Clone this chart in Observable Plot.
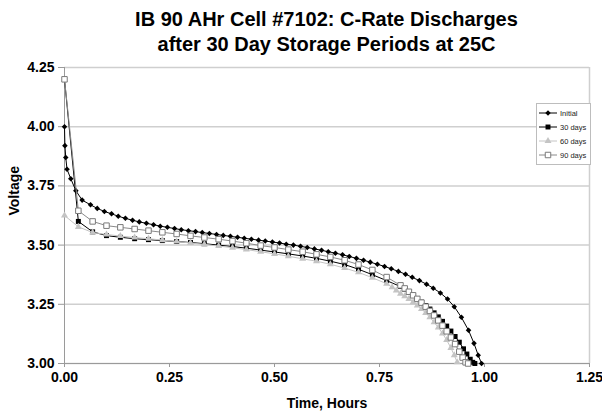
<!DOCTYPE html>
<html>
<head>
<meta charset="utf-8">
<script src="https://cdn.jsdelivr.net/npm/d3@7"></script>
<script src="https://cdn.jsdelivr.net/npm/@observablehq/plot@0.6"></script>
<style>
  html, body { margin: 0; padding: 0; background: #fff; }
  #wrap { position: relative; width: 602px; height: 419px; font-family: "Liberation Sans", Arial, sans-serif; }
  #title { box-sizing: border-box; height: 57px; padding: 7px 13px 0 64px; text-align: center; font-weight: bold; font-size: 20px; line-height: 25px; color: #000; }
  #legend { position: absolute; left: 536px; top: 103px; width: 55px; height: 62px; box-sizing: border-box; border: 1px solid #bdbdbd; background: #fff; }
  .lrow { position: absolute; left: 1px; height: 10px; display: flex; align-items: center; font-size: 7.5px; color: #222; white-space: nowrap; }
  .lrow svg { margin-right: 2px; }
</style>
</head>
<body>
<div id="wrap">
  <div id="title">IB 90 AHr Cell #7102: C-Rate Discharges<br>after 30 Day Storage Periods at 25C</div>
  <div id="chart"></div>
  <div id="legend"></div>
</div>
<script>
// ---- data (time in hours, voltage in volts) ----
const seriesNames = ["Initial", "30 days", "60 days", "90 days"];
const xTicks = [0, 0.25, 0.5, 0.75, 1.0, 1.25];
const yTicks = [3.0, 3.25, 3.5, 3.75, 4.0, 4.25];

const initialT = [0, 0.001, 0.003, 0.006, 0.015, 0.027, 0.042, 0.062, 0.078, 0.095, 0.112, 0.128, 0.145, 0.162, 0.178, 0.195, 0.212, 0.228, 0.245, 0.262, 0.278, 0.295, 0.312, 0.328, 0.345, 0.362, 0.378, 0.395, 0.412, 0.428, 0.445, 0.462, 0.478, 0.495, 0.512, 0.528, 0.545, 0.562, 0.578, 0.595, 0.612, 0.628, 0.645, 0.662, 0.678, 0.695, 0.712, 0.728, 0.745, 0.762, 0.778, 0.795, 0.812, 0.828, 0.845, 0.862, 0.878, 0.895, 0.912, 0.928, 0.945, 0.962, 0.975, 0.985, 0.993];
const initialV = [4.00, 3.92, 3.87, 3.82, 3.78, 3.73, 3.69, 3.67, 3.655, 3.642, 3.632, 3.622, 3.613, 3.605, 3.598, 3.592, 3.586, 3.580, 3.575, 3.570, 3.565, 3.561, 3.557, 3.553, 3.549, 3.545, 3.541, 3.537, 3.533, 3.529, 3.525, 3.521, 3.517, 3.513, 3.509, 3.504, 3.500, 3.495, 3.490, 3.484, 3.478, 3.472, 3.466, 3.459, 3.452, 3.444, 3.436, 3.428, 3.419, 3.410, 3.400, 3.389, 3.377, 3.364, 3.350, 3.335, 3.318, 3.298, 3.272, 3.240, 3.195, 3.140, 3.085, 3.035, 3.000];

const d30T = [0, 0.033, 0.067, 0.1, 0.133, 0.167, 0.2, 0.233, 0.267, 0.3, 0.333, 0.367, 0.4, 0.433, 0.467, 0.5, 0.533, 0.567, 0.6, 0.633, 0.667, 0.7, 0.733, 0.767, 0.8, 0.81, 0.82, 0.83, 0.84, 0.85, 0.86, 0.87, 0.88, 0.89, 0.9, 0.91, 0.92, 0.93, 0.94, 0.95, 0.958, 0.966, 0.972, 0.977];
const d30V = [4.20, 3.600, 3.556, 3.540, 3.533, 3.527, 3.523, 3.519, 3.515, 3.511, 3.506, 3.500, 3.494, 3.487, 3.479, 3.471, 3.463, 3.454, 3.444, 3.432, 3.418, 3.398, 3.375, 3.350, 3.325, 3.314, 3.300, 3.287, 3.273, 3.259, 3.245, 3.230, 3.214, 3.197, 3.178, 3.158, 3.137, 3.114, 3.090, 3.062, 3.040, 3.018, 3.005, 3.000];

const d60T = [0, 0.033, 0.067, 0.1, 0.133, 0.167, 0.2, 0.233, 0.267, 0.3, 0.333, 0.367, 0.4, 0.433, 0.467, 0.5, 0.533, 0.567, 0.6, 0.633, 0.667, 0.7, 0.733, 0.767, 0.78, 0.79, 0.8, 0.81, 0.82, 0.83, 0.84, 0.85, 0.86, 0.87, 0.88, 0.89, 0.9, 0.91, 0.92, 0.928, 0.935];
const d60V = [3.625, 3.577, 3.553, 3.545, 3.538, 3.532, 3.527, 3.521, 3.515, 3.509, 3.503, 3.496, 3.489, 3.481, 3.472, 3.463, 3.453, 3.442, 3.432, 3.419, 3.403, 3.385, 3.362, 3.337, 3.322, 3.308, 3.295, 3.284, 3.272, 3.259, 3.245, 3.230, 3.213, 3.195, 3.174, 3.152, 3.127, 3.099, 3.066, 3.035, 3.005];

const d90T = [0, 0.033, 0.067, 0.1, 0.133, 0.167, 0.2, 0.233, 0.267, 0.3, 0.333, 0.367, 0.4, 0.433, 0.467, 0.5, 0.533, 0.567, 0.6, 0.633, 0.667, 0.7, 0.733, 0.767, 0.8, 0.81, 0.82, 0.83, 0.84, 0.85, 0.86, 0.87, 0.88, 0.89, 0.9, 0.91, 0.92, 0.93, 0.94, 0.948, 0.955, 0.961];
const d90V = [4.20, 3.645, 3.600, 3.582, 3.575, 3.568, 3.561, 3.554, 3.547, 3.539, 3.532, 3.525, 3.517, 3.508, 3.498, 3.490, 3.481, 3.472, 3.461, 3.450, 3.436, 3.418, 3.395, 3.365, 3.330, 3.317, 3.303, 3.288, 3.273, 3.257, 3.240, 3.222, 3.203, 3.182, 3.160, 3.136, 3.110, 3.082, 3.050, 3.025, 3.005, 3.000];

// ---- build tables ----
const toRows = (ts, vs, s) => ts.map((t, i) => ({ t, v: vs[i], s }));
const rowsInit = toRows(initialT, initialV, seriesNames[0]);
const rows30 = toRows(d30T, d30V, seriesNames[1]);
const rows60 = toRows(d60T, d60V, seriesNames[2]);
const rows90 = toRows(d90T, d90V, seriesNames[3]);

const styles = {
  "Initial": { line: "#000", symbol: "diamond2", r: 2.5, fill: "#000", stroke: "none" },
  "30 days": { line: "#000", symbol: "square", r: 2.8, fill: "#000", stroke: "none" },
  "60 days": { line: "#c4c4c4", symbol: "triangle", r: 2.6, fill: "#c4c4c4", stroke: "none" },
  "90 days": { line: "#8a8a8a", symbol: "square", r: 3.1, fill: "#fff", stroke: "#7a7a7a" }
};

const fmt = d3.format(".2f");
const seriesMarks = [[rowsInit, "Initial"], [rows30, "30 days"], [rows60, "60 days"], [rows90, "90 days"]].flatMap(([rows, name]) => {
  const st = styles[name];
  return [
    Plot.line(rows, { x: "t", y: "v", stroke: st.line, strokeWidth: 1 }),
    Plot.dot(rows, { x: "t", y: "v", symbol: () => st.symbol, r: st.r, fill: st.fill, stroke: st.stroke, strokeWidth: 1 })
  ];
});

const chart = Plot.plot({
  width: 602,
  height: 362,
  marginLeft: 64,
  marginRight: 13,
  marginTop: 10,
  marginBottom: 56,
  style: { fontFamily: "'Liberation Sans', Arial, sans-serif", fontSize: "14px", fontWeight: "bold", background: "#fff", color: "#000" },
  x: { domain: [xTicks[0], xTicks[xTicks.length - 1]] },
  y: { domain: [yTicks[0], yTicks[yTicks.length - 1]] },
  symbol: { type: "identity" },
  marks: [
    Plot.ruleY(yTicks, { stroke: "#cfcfcf", strokeWidth: 1.5 }),
    Plot.ruleX([xTicks[0]], { stroke: "#9a9a9a", strokeWidth: 1 }),
    Plot.ruleX([xTicks[xTicks.length - 1]], { stroke: "#cfcfcf", strokeWidth: 1.5 }),
    Plot.ruleY([yTicks[0]], { stroke: "#9a9a9a", strokeWidth: 1 }),
    Plot.axisY({ ticks: yTicks, tickFormat: fmt, tickSize: 6, tickPadding: 4, label: null, stroke: "#9a9a9a", fill: "#000", fontWeight: "bold", fontSize: 14 }),
    Plot.axisX({ ticks: xTicks, tickFormat: fmt, tickSize: 4, tickPadding: 5, label: null, stroke: "#9a9a9a", fill: "#000", fontWeight: "bold", fontSize: 14 }),
    ...seriesMarks,
    Plot.text(["Time, Hours"], { frameAnchor: "bottom", dy: 44, fontSize: 14, fontWeight: "bold", fill: "#000" }),
    Plot.text(["Voltage"], { frameAnchor: "left", dx: -50, rotate: -90, fontSize: 14, fontWeight: "bold", fill: "#000" })
  ]
});
document.getElementById("chart").appendChild(chart);

// ---- legend ----
const legend = document.getElementById("legend");
seriesNames.forEach((name, i) => {
  const st = styles[name];
  const row = document.createElement("div");
  row.className = "lrow";
  row.style.top = (4 + i * 14) + "px";
  const sz = st.r * st.r * Math.PI;
  const symType = { diamond2: d3.symbolDiamond2, square: d3.symbolSquare, triangle: d3.symbolTriangle }[st.symbol];
  const path = d3.symbol(symType, sz)();
  row.innerHTML = `<svg width="20" height="10"><line x1="1" x2="19" y1="5" y2="5" stroke="${st.line}" stroke-width="1"/><path transform="translate(10,5)" d="${path}" fill="${st.fill}" stroke="${st.stroke}"/></svg><span>${name}</span>`;
  legend.appendChild(row);
});
</script>
</body>
</html>
